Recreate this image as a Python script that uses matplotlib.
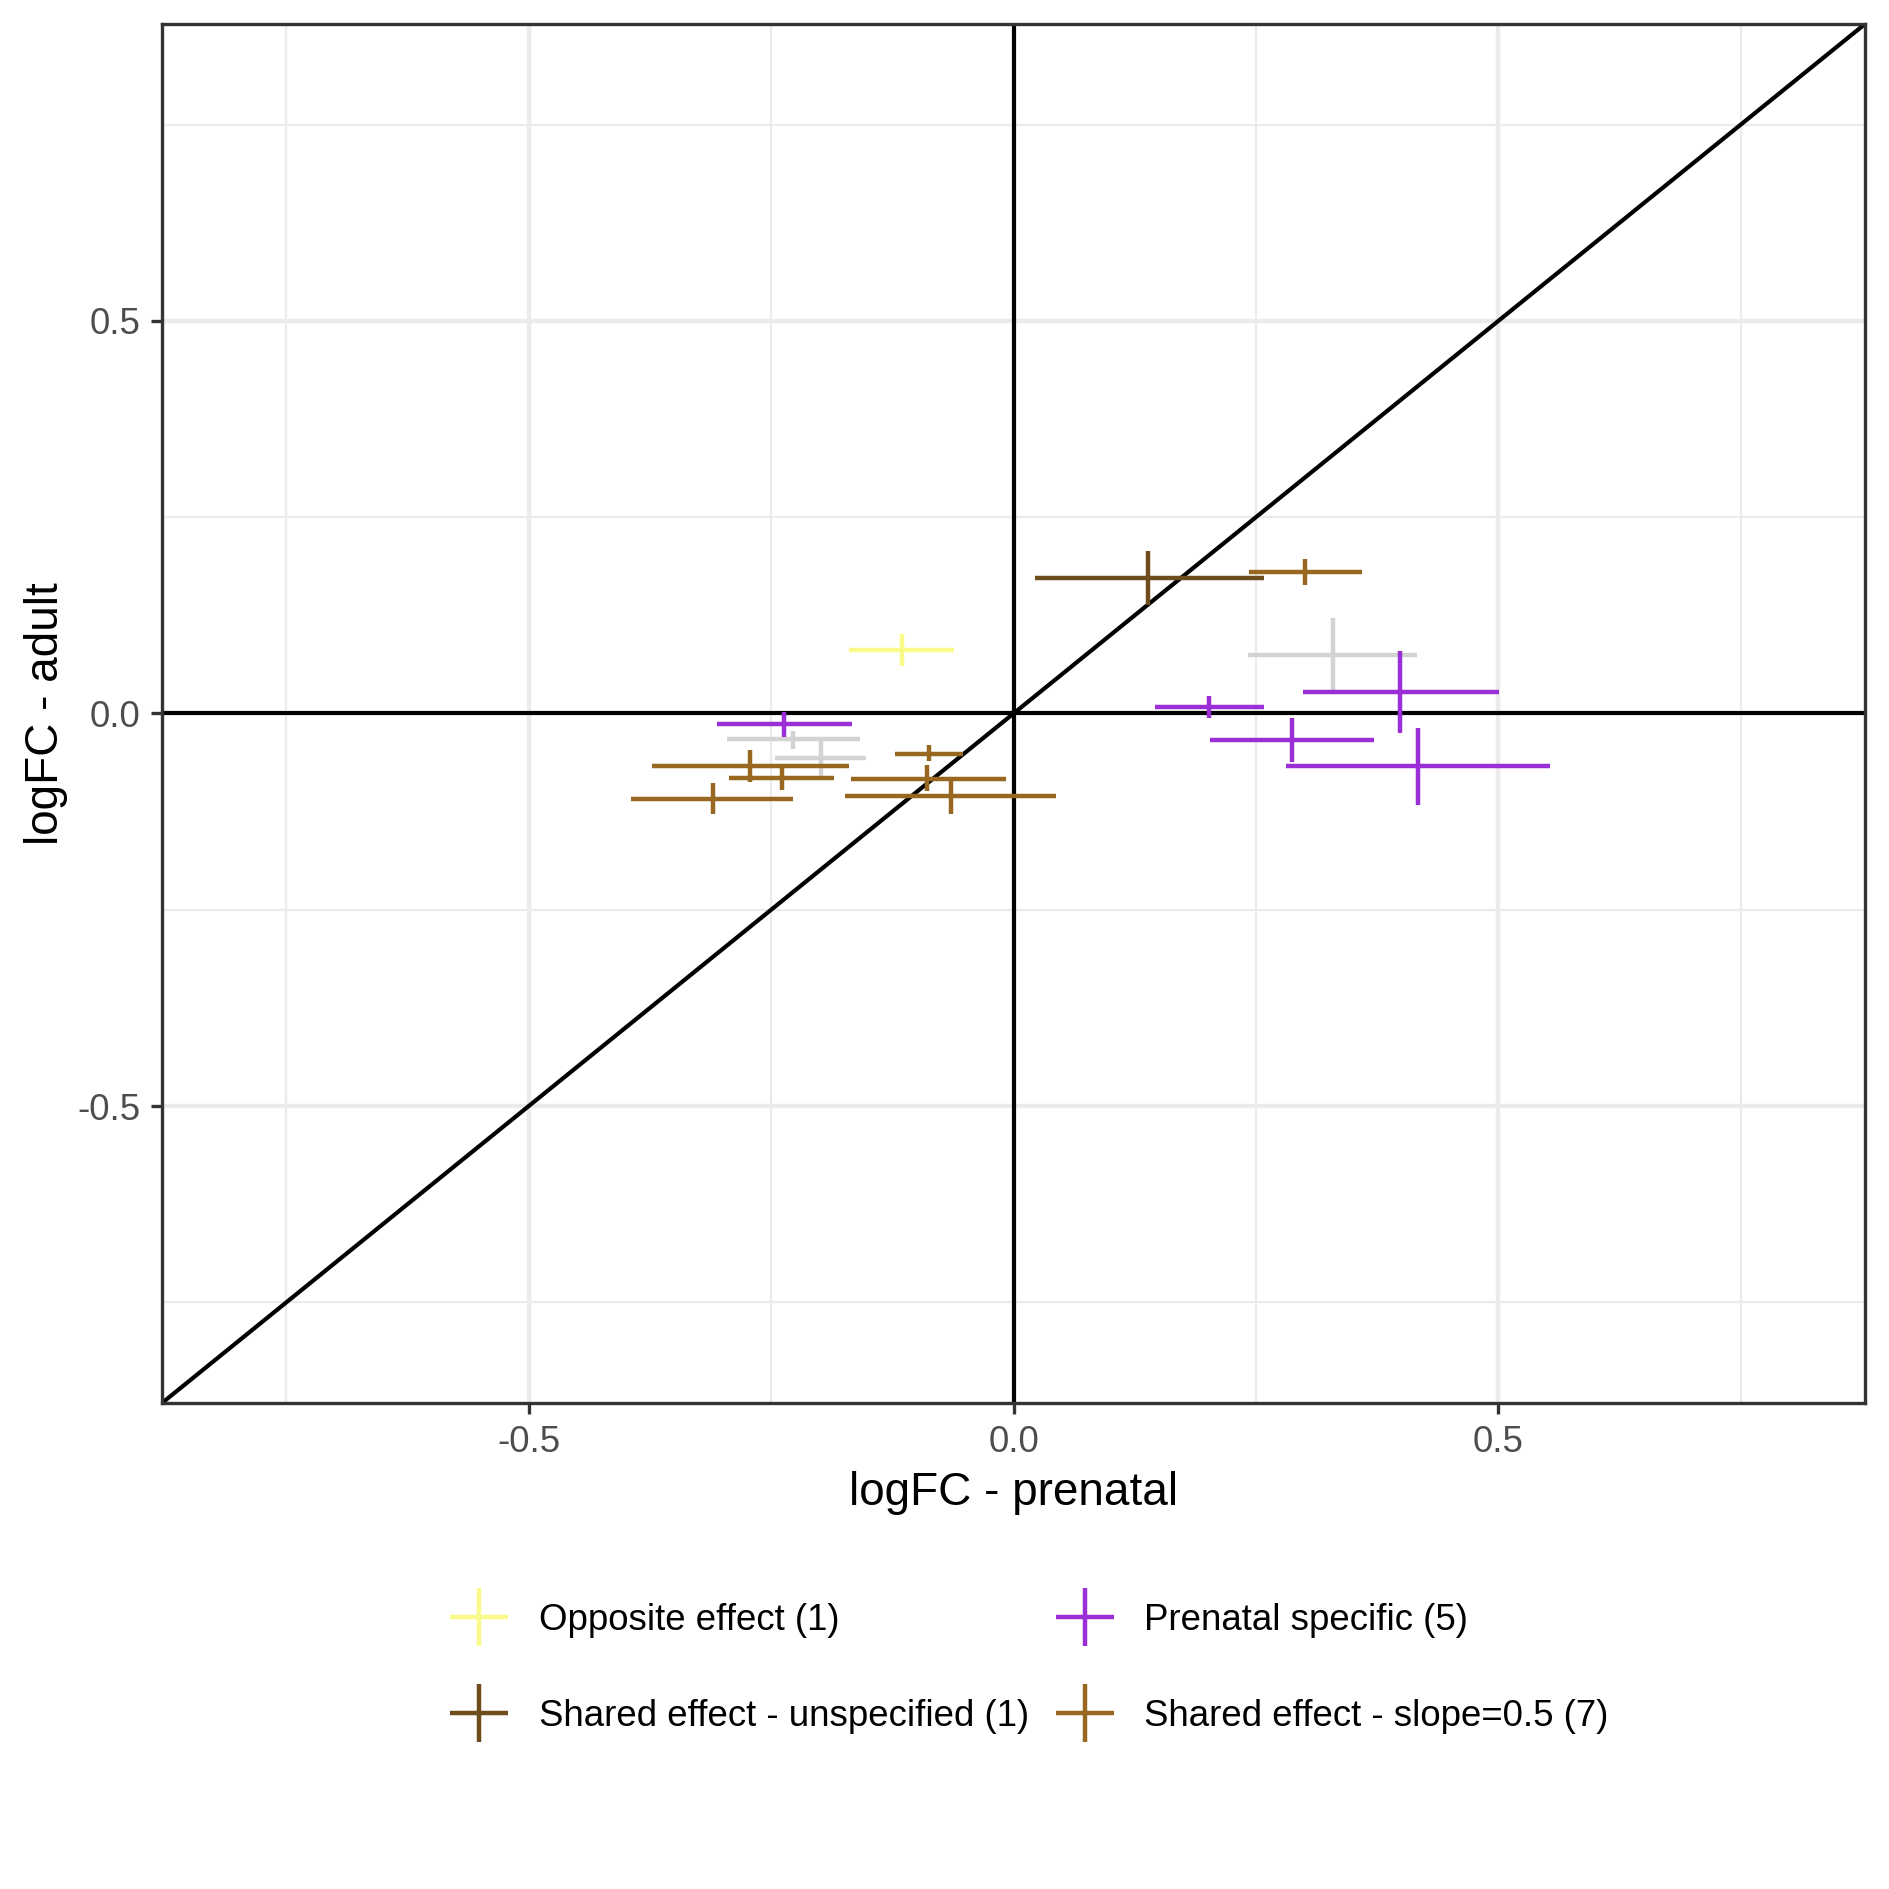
import matplotlib.pyplot as plt
from matplotlib.lines import Line2D
import numpy as np

plt.rcParams['font.family'] = ['Liberation Sans', 'DejaVu Sans']

# categories of each estimate
groups = ['none', 'none', 'none',
          'opposite',
          'prenatal', 'prenatal', 'prenatal', 'prenatal', 'prenatal',
          'shared_unspec',
          'shared_slope', 'shared_slope', 'shared_slope', 'shared_slope',
          'shared_slope', 'shared_slope', 'shared_slope']

# logFC prenatal (x) with interval
fc_pre = [-0.227, -0.199, 0.329,
          -0.115,
          -0.237, 0.202, 0.399, 0.287, 0.417,
          0.139,
          -0.272, -0.239, -0.310, -0.087, -0.089, -0.065, 0.301]
pre_lo = [-0.295, -0.246, 0.242,
          -0.170,
          -0.306, 0.146, 0.298, 0.203, 0.281,
          0.022,
          -0.373, -0.293, -0.394, -0.122, -0.168, -0.174, 0.243]
pre_hi = [-0.158, -0.152, 0.416,
          -0.061,
          -0.167, 0.258, 0.501, 0.372, 0.553,
          0.258,
          -0.170, -0.185, -0.227, -0.052, -0.008, 0.044, 0.359]

# logFC adult (y) with interval
fc_adu = [-0.033, -0.057, 0.074,
          0.081,
          -0.014, 0.008, 0.027, -0.034, -0.067,
          0.172,
          -0.067, -0.082, -0.109, -0.051, -0.083, -0.105, 0.180]
adu_lo = [-0.045, -0.079, 0.030,
          0.061,
          -0.030, -0.006, -0.025, -0.062, -0.116,
          0.138,
          -0.087, -0.097, -0.128, -0.061, -0.099, -0.128, 0.163]
adu_hi = [-0.022, -0.034, 0.121,
          0.101,
          0.002, 0.022, 0.079, -0.006, -0.018,
          0.207,
          -0.046, -0.068, -0.089, -0.040, -0.066, -0.085, 0.197]

colors = {'none': '#D3D3D3', 'opposite': '#FAFA88', 'prenatal': '#9B2FD6',
          'shared_unspec': '#6E4C1C', 'shared_slope': '#996820'}
labels = {'opposite': 'Opposite effect (1)', 'prenatal': 'Prenatal specific (5)',
          'shared_unspec': 'Shared effect - unspecified (1)',
          'shared_slope': 'Shared effect - slope=0.5 (7)'}
legend_order = ['opposite', 'shared_unspec', 'prenatal', 'shared_slope']

fc_pre = np.array(fc_pre); pre_lo = np.array(pre_lo); pre_hi = np.array(pre_hi)
fc_adu = np.array(fc_adu); adu_lo = np.array(adu_lo); adu_hi = np.array(adu_hi)
groups = np.array(groups)

fig = plt.figure(figsize=(1889 / 300, 1889 / 300), dpi=300)
ax = fig.add_axes([0.0858, 0.2573, 0.9015, 0.7300])

lim = 0.878
ax.set_xlim(-lim, lim)
ax.set_ylim(-lim, lim)

ax.set_xticks([-0.5, 0, 0.5])
ax.set_yticks([-0.5, 0, 0.5])
ax.set_xticks([-0.75, -0.25, 0.25, 0.75], minor=True)
ax.set_yticks([-0.75, -0.25, 0.25, 0.75], minor=True)
ax.set_xticklabels(['-0.5', '0.0', '0.5'])
ax.set_yticklabels(['-0.5', '0.0', '0.5'])
ax.grid(True, which='major', color='#EBEBEB', lw=1.07)
ax.grid(True, which='minor', color='#EBEBEB', lw=0.53)
ax.set_axisbelow(True)
ax.tick_params(which='major', length=2.75, width=0.8, color='#333333',
               labelsize=8.8, labelcolor='#4D4D4D', pad=2.5)
ax.tick_params(which='minor', length=0)
for s in ax.spines.values():
    s.set_color('#333333')
    s.set_linewidth(0.8)

ax.axhline(0, color='black', lw=1.0, zorder=2)
ax.axvline(0, color='black', lw=1.0, zorder=2)
ax.axline((0, 0), slope=1, color='black', lw=1.0, zorder=2)

for g in ['none', 'opposite', 'prenatal', 'shared_unspec', 'shared_slope']:
    m = groups == g
    ax.errorbar(fc_pre[m], fc_adu[m],
                xerr=[fc_pre[m] - pre_lo[m], pre_hi[m] - fc_pre[m]],
                yerr=[fc_adu[m] - adu_lo[m], adu_hi[m] - fc_adu[m]],
                fmt='none', ecolor=colors[g], elinewidth=1.07, capsize=0, zorder=3)

ax.set_xlabel('logFC - prenatal', fontsize=11, labelpad=2.6)
ax.set_ylabel('logFC - adult', fontsize=11, labelpad=2.2)

handles = [Line2D([], [], ls='none', marker='+', markersize=13.7, markeredgewidth=1.07,
                  color=colors[g]) for g in legend_order]
fig.legend(handles, [labels[g] for g in legend_order], ncol=2, frameon=False,
           loc='center', bbox_to_anchor=(0.5448, 0.1166), fontsize=8.8,
           handlelength=1.6, handletextpad=0.82, columnspacing=0.72,
           labelspacing=1.66)

fig.savefig('out.png', dpi=300)
